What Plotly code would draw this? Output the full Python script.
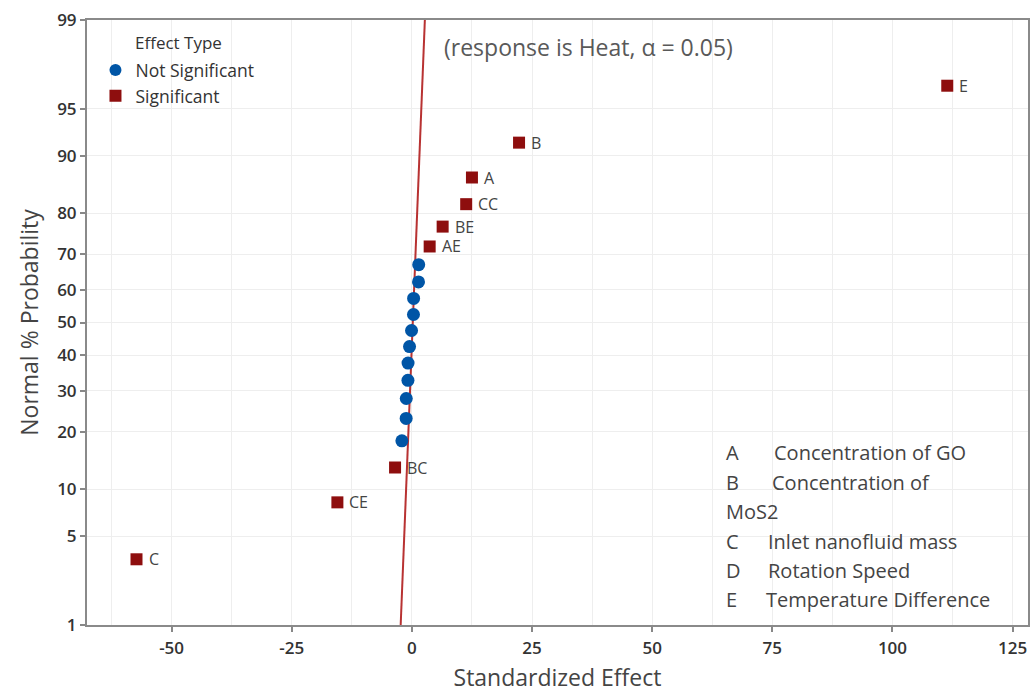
from statistics import NormalDist
import plotly.graph_objects as go

# Standardized effects, split by significance (alpha = 0.05)
sig_terms = ["C", "CE", "BC", "AE", "BE", "CC", "A", "B", "E"]
sig_effect = [-57.3, -15.5, -3.5, 3.7, 6.4, 11.3, 12.5, 22.3, 111.4]
sig_pct = [3.43, 8.33, 13.24, 72.06, 76.96, 81.86, 86.76, 91.67, 96.57]

nonsig_effect = [-2.08, -1.19, -1.17, -0.82, -0.8, -0.49, -0.07, 0.33, 0.36, 1.38, 1.42]
nonsig_pct = [18.14, 23.04, 27.94, 32.84, 37.75, 42.65, 47.55, 52.45, 57.35, 62.25, 67.16]

# Fitted normal reference line, given at its two ends
ref_effect = [-2.33, 2.70]
ref_pct = [1, 99]

prob_ticks = [1, 5, 10, 20, 30, 40, 50, 60, 70, 80, 90, 95, 99]
effect_ticks = [-50, -25, 0, 25, 50, 75, 100, 125]

factor_letters = ["A", "B", "", "C", "D", "E"]
factor_names = ["Concentration of GO", "Concentration of", "MoS2",
                "Inlet nanofluid mass", "Rotation Speed", "Temperature Difference"]

nd = NormalDist()


def zscore(pcts):
    return [nd.inv_cdf(p / 100.0) for p in pcts]


FONT = "Open Sans"
RED = "#8E0E0E"
BLUE = "#0055A6"
TEXT = "#444444"

fig = go.Figure()

fig.add_trace(go.Scatter(
    x=ref_effect, y=zscore(ref_pct), mode="lines",
    line=dict(color="#B83232", width=2), showlegend=False, hoverinfo="skip"))

fig.add_trace(go.Scatter(
    x=nonsig_effect, y=zscore(nonsig_pct), mode="markers",
    name="Not Significant",
    marker=dict(symbol="circle", size=13, color=BLUE)))

fig.add_trace(go.Scatter(
    x=sig_effect, y=zscore(sig_pct), mode="markers",
    name="Significant",
    marker=dict(symbol="square", size=12, color=RED)))

# Term labels beside the significant effects
for term, ex, ey in zip(sig_terms, sig_effect, zscore(sig_pct)):
    fig.add_annotation(x=ex, y=ey, text=term, showarrow=False,
                       xanchor="left", yanchor="middle", xshift=10,
                       font=dict(family=FONT, size=16, color=TEXT))

tick_font = dict(family=FONT, size=17, color="#333333", weight=600)

fig.update_layout(
    width=1035, height=693,
    margin=dict(l=87, r=7, t=20, b=68),
    paper_bgcolor="white", plot_bgcolor="white",
    font=dict(family=FONT, color="#333333"),
    legend=dict(
        x=0.009, y=0.947, xanchor="left", yanchor="top",
        bgcolor="rgba(0,0,0,0)", font=dict(family=FONT, size=17.5, color="#333333"),
        tracegroupgap=0, itemsizing="constant"),
    xaxis=dict(
        range=[-67.6, 128.2], tickvals=effect_ticks,
        ticktext=[str(t) for t in effect_ticks],
        ticks="outside", ticklen=5, tickwidth=1.5, tickcolor="#888888",
        tickfont=tick_font, ticklabelstandoff=2, automargin=False,
        showgrid=True, gridcolor="#EEEEEE", gridwidth=1,
        minor=dict(tickvals=[-62.5 + 12.5 * k for k in range(16)], showgrid=True,
                   gridcolor="#EEEEEE", ticks=""),
        showline=True, linecolor="#8A8A8A", linewidth=2, mirror=True,
        zeroline=False,
        title=dict(text="Standardized Effect", font=dict(family=FONT, size=23, color=TEXT),
                   standoff=20),
    ),
    yaxis=dict(
        range=zscore([1, 99]), tickvals=zscore(prob_ticks),
        ticktext=[str(t) for t in prob_ticks],
        ticks="outside", ticklen=5, tickwidth=1.5, tickcolor="#888888",
        tickfont=tick_font, automargin=False,
        showgrid=True, gridcolor="#EEEEEE", gridwidth=1,
        showline=True, linecolor="#8A8A8A", linewidth=2, mirror=True,
        zeroline=False,
        title=dict(text="Normal % Probability", font=dict(family=FONT, size=23, color=TEXT),
                   standoff=12),
    ),
)

# Plot-area pixel helpers for placing free text
L, R, T, B = 87, 1028, 20, 625


def px_x(px):
    return (px - L) / (R - L)


def px_y(py):
    return (B - py) / (B - T)


fig.add_annotation(text="(response is Heat, \u03b1 = 0.05)", x=px_x(442), y=px_y(47),
                   xref="paper", yref="paper", xanchor="left", yanchor="middle",
                   showarrow=False, font=dict(family=FONT, size=23, color="#595959"))
fig.add_annotation(text="Effect Type", x=px_x(133), y=px_y(43),
                   xref="paper", yref="paper", xanchor="left", yanchor="middle",
                   showarrow=False, font=dict(family=FONT, size=17, color="#333333"))

line_y = [452, 482, 511, 541, 570, 599]
name_x = [772, 770, 724, 766, 766, 764]
for letter, name, ly, nx in zip(factor_letters, factor_names, line_y, name_x):
    if letter:
        fig.add_annotation(text=letter, x=px_x(724), y=px_y(ly), xref="paper", yref="paper",
                           xanchor="left", yanchor="middle", showarrow=False,
                           font=dict(family=FONT, size=20, color=TEXT))
    fig.add_annotation(text=name, x=px_x(nx), y=px_y(ly), xref="paper", yref="paper",
                       xanchor="left", yanchor="middle", showarrow=False,
                       font=dict(family=FONT, size=20, color=TEXT))

fig.write_html("out.html")
